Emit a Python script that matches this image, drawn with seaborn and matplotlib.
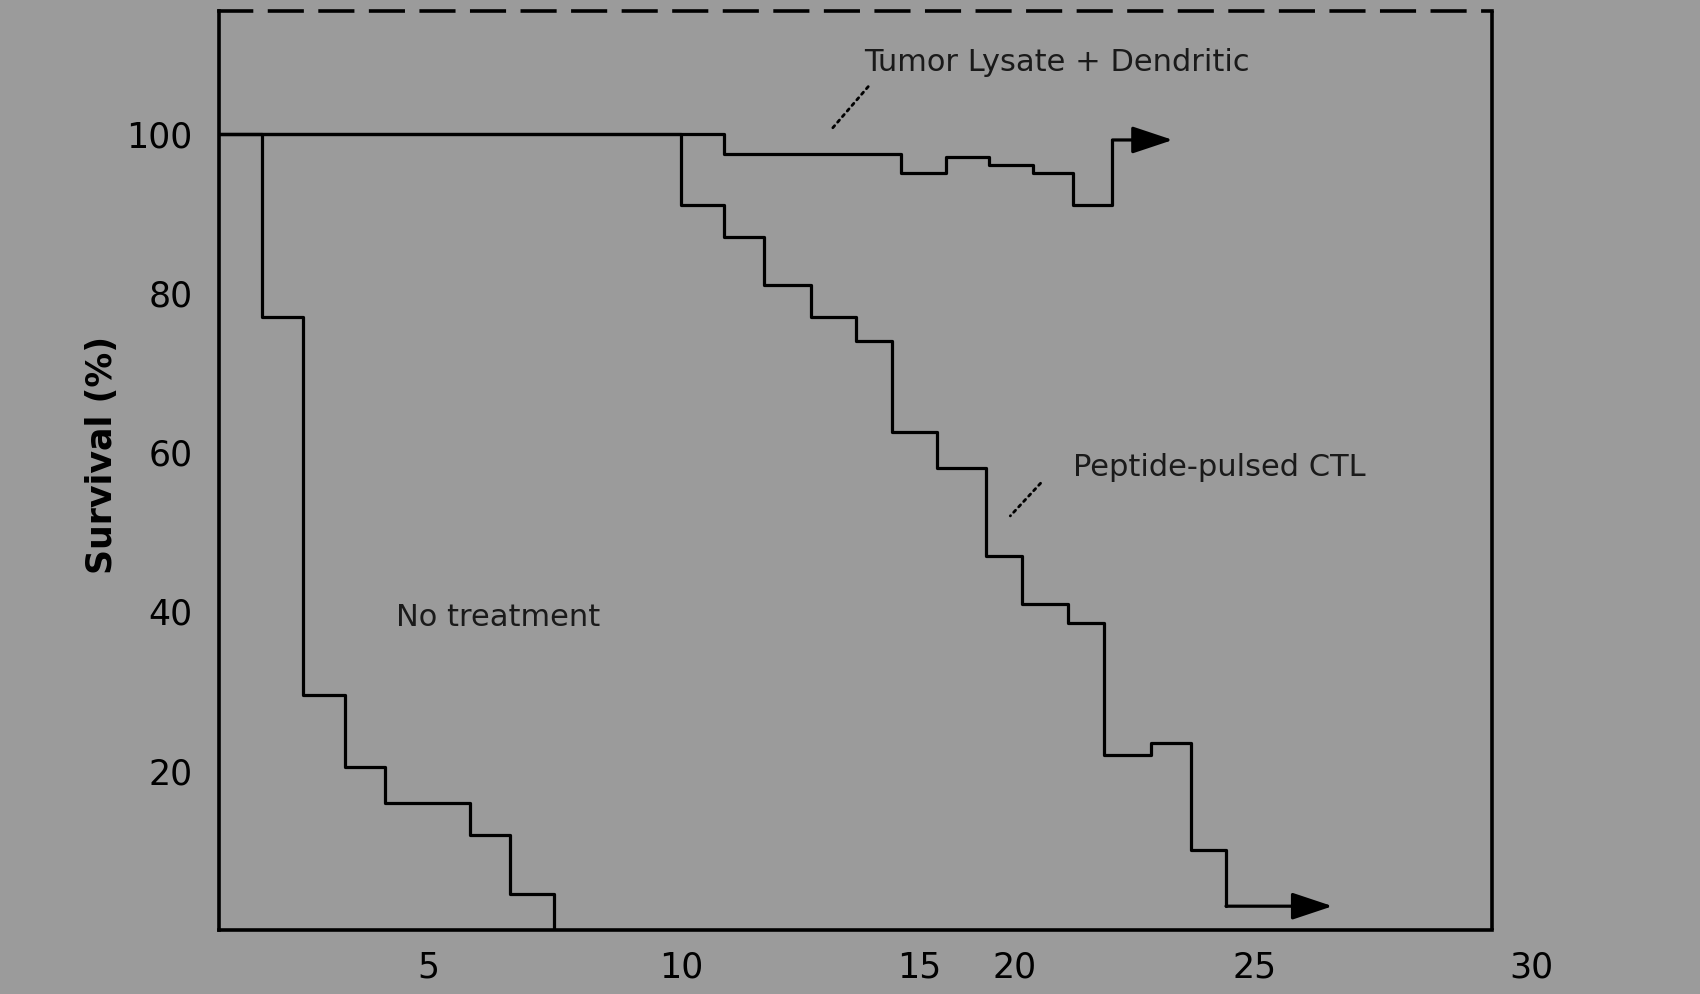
import numpy as np
import pandas as pd
import matplotlib
matplotlib.use('Agg')
import matplotlib.pyplot as plt
import seaborn as sns

# x tick labels sit unevenly on the scanned original, so the x axis is warped
tick_days = [0, 5, 10, 15, 20, 25, 30]
tick_pos = [162, 395, 628, 848, 936, 1157, 1413]
y_ticks = [20, 40, 60, 80, 100]

# survival curves (step changes)
no_treat_day = [0.86, 1.72, 2.53, 3.35, 4.14, 5.82, 6.63, 7.49]
no_treat_surv = [100, 77, 29.5, 20.5, 16, 12, 4.5, 0]

ctl_day = [0.86, 10.0, 10.91, 11.75, 12.73, 13.68, 14.43, 15.91, 18.52,
           20.16, 21.11, 21.86, 22.85, 23.67, 24.41]
ctl_surv = [100, 91, 87, 81, 77, 74, 62.5, 58, 47, 41, 38.5, 22, 23.5, 10, 3.0]
ctl_arrow_tip = 26.41

combo_day = [0.86, 10.91, 14.61, 16.42, 18.64, 20.39, 21.22, 22.04]
combo_surv = [100, 97.5, 95, 97, 96, 95, 91, 99.2]
combo_arrow_tip = 23.3

labels = ['No treatment', 'Peptide-pulsed CTL', 'Tumor Lysate + Dendritic']

x_left, x_right = 0.86, 29.28
y_top = 115.4
bg = '#9b9b9b'


def warp(x):
    return np.interp(x, tick_days, tick_pos)


def unwarp(p):
    return np.interp(p, tick_pos, tick_days)


def make_frame():
    parts = []
    for name, d, s in [(labels[0], no_treat_day, no_treat_surv),
                       (labels[1], ctl_day, ctl_surv),
                       (labels[2], combo_day, combo_surv)]:
        parts.append(pd.DataFrame({'day': d, 'survival': s, 'group': name}))
    return pd.concat(parts, ignore_index=True)


sns.set_theme(style='white')
plt.rcParams['font.family'] = ['Liberation Sans Narrow', 'DejaVu Sans']

fig = plt.figure(figsize=(17, 9.94), dpi=100, facecolor=bg)
ax = fig.add_axes([0.1288, 0.0643, 0.7723, 0.9247])
ax.set_facecolor(bg)
ax.set_xscale('function', functions=(warp, unwarp))

df = make_frame()
sns.lineplot(data=df, x='day', y='survival', hue='group', units='group',
             estimator=None, sort=False, palette=['black'] * 3,
             drawstyle='steps-post', linewidth=2.3, legend=False, ax=ax)

# arrows at the ends of the surviving curves
for start, tip, val in [(ctl_day[-1], ctl_arrow_tip, ctl_surv[-1]),
                        (combo_day[-1], combo_arrow_tip, combo_surv[-1])]:
    ax.annotate('', xy=(tip, val), xytext=(start, val),
                arrowprops=dict(arrowstyle='-|>,head_length=0.9,head_width=0.3',
                                mutation_scale=28, color='black', lw=2.3,
                                shrinkA=0, shrinkB=0))

# curve labels with small dotted leaders
txt_kw = dict(fontsize=22, color='#1a1a1a', va='center', ha='left')
ax.text(4.36, 39.3, labels[0], **txt_kw)
ax.text(21.22, 58.1, labels[1], **txt_kw)
ax.text(13.84, 108.9, labels[2], **txt_kw)
lead = dict(arrowstyle='-', linestyle=':', color='black', lw=2, shrinkA=0, shrinkB=0)
ax.annotate('', xy=(19.77, 52.0), xytext=(20.54, 56.1), arrowprops=lead)
ax.annotate('', xy=(13.14, 100.4), xytext=(13.93, 105.9), arrowprops=lead)

ax.set_xlim(x_left, 30)
ax.set_ylim(0, y_top)
ax.set_xticks(tick_days[1:])
ax.set_xticklabels([str(t) for t in tick_days[1:]])
ax.set_yticks(y_ticks)
ax.set_yticklabels([str(t) for t in y_ticks])
ax.tick_params(axis='both', length=0, labelsize=25, colors='black')
ax.tick_params(axis='x', pad=15)
ax.tick_params(axis='y', pad=19)
ax.set_xlabel('')
ax.set_ylabel('Survival (%)', fontsize=25, fontweight='bold', color='black')
ax.yaxis.set_label_coords(-0.076, 0.5165)

# frame: right edge is inside the last tick, so draw it by hand
for side in ['top', 'bottom', 'left']:
    ax.spines[side].set_color('black')
    ax.spines[side].set_linewidth(2.6)
ax.spines['right'].set_visible(False)
ax.spines['top'].set_bounds(x_left, x_right)
ax.spines['bottom'].set_bounds(x_left, x_right)
ax.spines['top'].set_linestyle((0, (9, 5)))
ax.axvline(x_right, color='black', lw=2.6)

plt.savefig('out.png', dpi=100, facecolor=bg)
